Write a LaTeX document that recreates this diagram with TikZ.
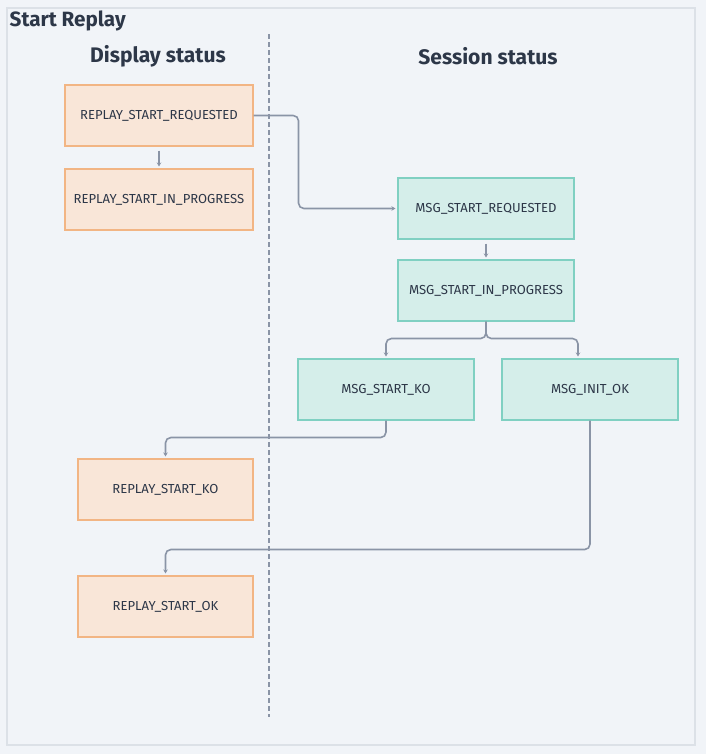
\documentclass[tikz,border=0pt]{standalone}
\usepackage{fontspec}
\setmainfont{Fira Sans}
\usetikzlibrary{calc}
\usetikzlibrary{positioning}
\usetikzlibrary{arrows.meta}

\definecolor{bgcol}{HTML}{F1F4F8}
\definecolor{framecol}{HTML}{DCE1E7}
\definecolor{inkcol}{HTML}{2D3748}
\definecolor{linecol}{HTML}{8A94A6}
\definecolor{dispfill}{HTML}{F9E6D8}
\definecolor{dispdraw}{HTML}{F2B584}
\definecolor{sessfill}{HTML}{D5EEEA}
\definecolor{sessdraw}{HTML}{80D0C2}

\begin{document}
\begin{tikzpicture}[x=0.75pt, y=-0.75pt,
    dispbox/.style={draw=dispdraw, fill=dispfill, line width=0.8pt, minimum height=45.75pt,
      text=inkcol, font=\fontsize{9.8}{11}\selectfont, inner sep=0pt},
    sessbox/.style={draw=sessdraw, fill=sessfill, line width=0.8pt, minimum height=45.75pt,
      minimum width=132pt, text=inkcol, font=\fontsize{9.8}{11}\selectfont, inner sep=0pt},
    heading/.style={text=inkcol, font=\fontsize{15.8}{18}\selectfont\bfseries},
    link/.style={draw=linecol, line width=1.2pt, rounded corners=4pt,
      -{Stealth[length=3pt, width=3.4pt]}, shorten >=1.5pt}]
        \useasboundingbox (0, 0) rectangle (706, 754);
        \fill[bgcol] (0, 0) rectangle (706, 754);
        \draw[framecol, line width=0.9pt] (7, 8) rectangle (695, 745);
        \node[anchor=west, text=inkcol, font=\fontsize{15.5}{17}\selectfont\bfseries] (title) at (5, 21) {Start Replay};
        \node[heading] (disphead) at (158, 56) {Display status};
        \node[heading] (sesshead) at (488, 56) {Session status};
        \draw[linecol, line width=0.9pt, dash pattern=on 3.5pt off 2.5pt] (269, 34) -- (269, 717);
        % display status
        \node[dispbox, minimum width=141pt] (rsr) at (159, 115.5) {REPLAY\_START\_REQUESTED};
        \node[dispbox, minimum width=141pt] (rsip) at (159, 199.5) {REPLAY\_START\_IN\_PROGRESS};
        \node[dispbox, minimum width=131.25pt] (rsko) at (165.5, 489.5) {REPLAY\_START\_KO};
        \node[dispbox, minimum width=131.25pt] (rsok) at (165.5, 606.5) {REPLAY\_START\_OK};
        % session status
        \node[sessbox] (msr) at (486, 208.5) {MSG\_START\_REQUESTED};
        \node[sessbox] (msip) at (486, 290.5) {MSG\_START\_IN\_PROGRESS};
        \node[sessbox] (msko) at (386, 389.5) {MSG\_START\_KO};
        \node[sessbox] (miok) at (590, 389.5) {MSG\_INIT\_OK};
        % links
        \draw[link] (rsr.east) -- ++(45, 0) |- (msr.west);
        \draw[link] ([yshift=-3pt]rsr.south) -- (rsip.north);
        \draw[link] ([yshift=-3pt]msr.south) -- (msip.north);
        \draw[link] (msip.south) -- ++(0, 17) -| (msko.north);
        \draw[link] (msip.south) -- ++(0, 17) -| ($(miok.north)+(-12, 0)$);
        \draw[link] (msko.south) -- ++(0, 17) -| (rsko.north);
        \draw[link] (miok.south) -- ++(0, 129) -| (rsok.north);
      \end{tikzpicture}
\end{document}
